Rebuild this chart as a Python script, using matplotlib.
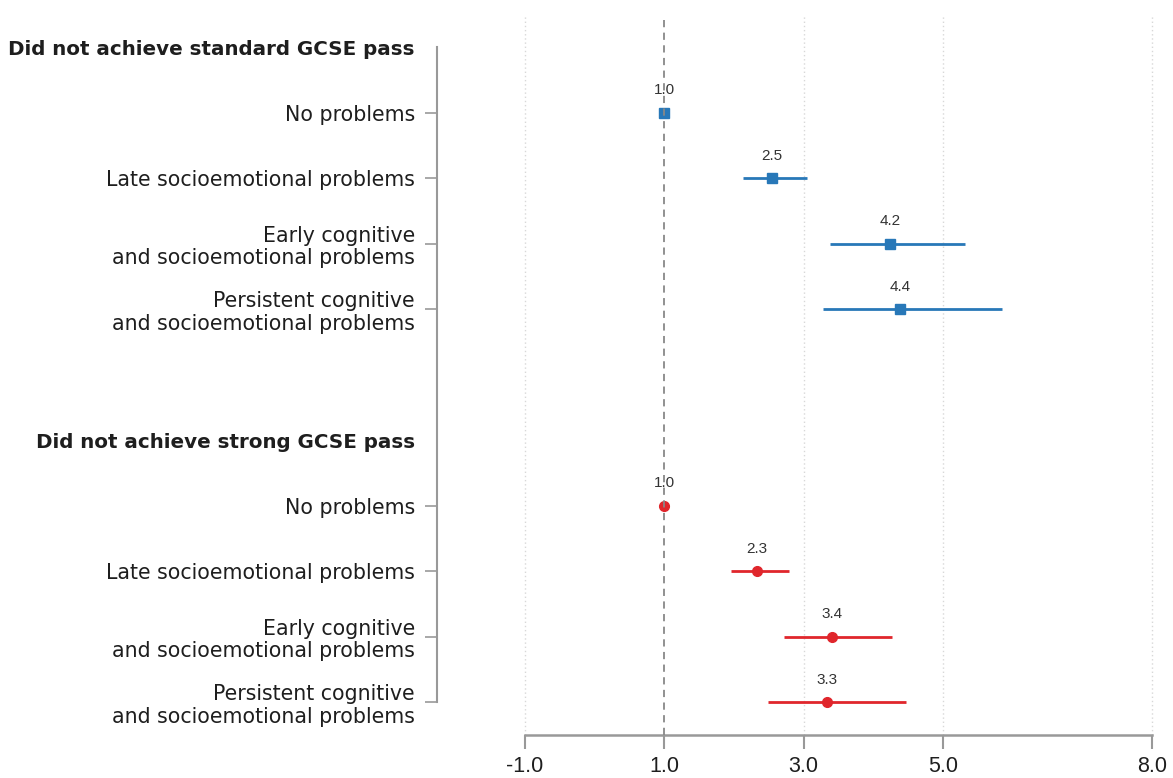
import matplotlib.pyplot as plt

plt.rcParams['font.family'] = ['Liberation Sans', 'DejaVu Sans']

row_labels = [
    "Did not achieve standard GCSE pass",
    "No problems",
    "Late socioemotional problems",
    "Early cognitive\nand socioemotional problems",
    "Persistent cognitive\nand socioemotional problems",
    "",
    "Did not achieve strong GCSE pass",
    "No problems",
    "Late socioemotional problems",
    "Early cognitive\nand socioemotional problems",
    "Persistent cognitive\nand socioemotional problems",
]
header_rows = [0, 6]

# standard GCSE pass (blue)
std_rows = [1, 2, 3, 4]
std_or = [1.0, 2.54, 4.24, 4.38]
std_lo = [1.0, 2.13, 3.38, 3.28]
std_hi = [1.0, 3.05, 5.32, 5.85]

# strong GCSE pass (red)
strong_rows = [7, 8, 9, 10]
strong_or = [1.0, 2.33, 3.41, 3.34]
strong_lo = [1.0, 1.96, 2.72, 2.49]
strong_hi = [1.0, 2.79, 4.27, 4.47]

xticks = [-1.0, 1.0, 3.0, 5.0, 8.0]

blue = "#2878b8"
red = "#e0262c"

fig = plt.figure(figsize=(11.73, 7.78), dpi=100)
ax = fig.add_axes([437 / 1173, 1 - 735 / 778, 1 - 437 / 1173, (735 - 14.75) / 778])

for x in [-1.0, 3.0, 5.0, 8.0]:
    ax.axvline(x, color="#d8d8d8", linestyle=(0, (1, 2)), linewidth=1, zorder=0)
ax.axvline(1.0, color="#888888", linestyle=(0, (4, 3)), linewidth=1.3, zorder=4)


def draw(rows, est, lo, hi, color, marker):
    for r, e, l, h in zip(rows, est, lo, hi):
        if h > l:
            ax.plot([l, h], [r, r], color=color, linewidth=2, zorder=2, solid_capstyle="butt")
        ax.plot(e, r, marker=marker, color=color, markersize=7, zorder=3, linestyle="none")
        ax.text(e, r - 0.24, f"{e:.1f}", ha="center", va="bottom", fontsize=11,
                color="#333333", zorder=1)


draw(std_rows, std_or, std_lo, std_hi, blue, "s")
draw(strong_rows, strong_or, strong_lo, strong_hi, red, "o")

ax.set_xlim(-2.26, 8.30)
ax.set_ylim(10.5, -0.5)

ax.set_yticks(range(len(row_labels)))
ax.set_yticklabels(row_labels, fontsize=14.8, color="#1e1e1e", linespacing=1.15,
                   family="DejaVu Sans")
for i, lab in enumerate(ax.get_yticklabels()):
    if i in header_rows:
        lab.set_fontweight("bold")
        lab.set_fontsize(14.3)
for i, t in enumerate(ax.yaxis.get_major_ticks()):
    if i in header_rows or row_labels[i] == "":
        t.tick1line.set_visible(False)

ax.set_xticks(xticks)
ax.set_xticklabels([f"{x:.1f}" for x in xticks], fontsize=15.5, color="#1e1e1e",
                   family="Liberation Sans")

ax.tick_params(axis="y", length=9, width=1.2, color="#999999", pad=7)
ax.tick_params(axis="x", length=10, width=1.5, color="#999999", pad=5)

for s in ["top", "right"]:
    ax.spines[s].set_visible(False)
ax.spines["left"].set_bounds(0, 10)
ax.spines["left"].set_color("#999999")
ax.spines["left"].set_linewidth(1.5)
ax.spines["bottom"].set_bounds(-1, 8)
ax.spines["bottom"].set_color("#999999")
ax.spines["bottom"].set_linewidth(1.8)

fig.savefig("out.png", dpi=100)
